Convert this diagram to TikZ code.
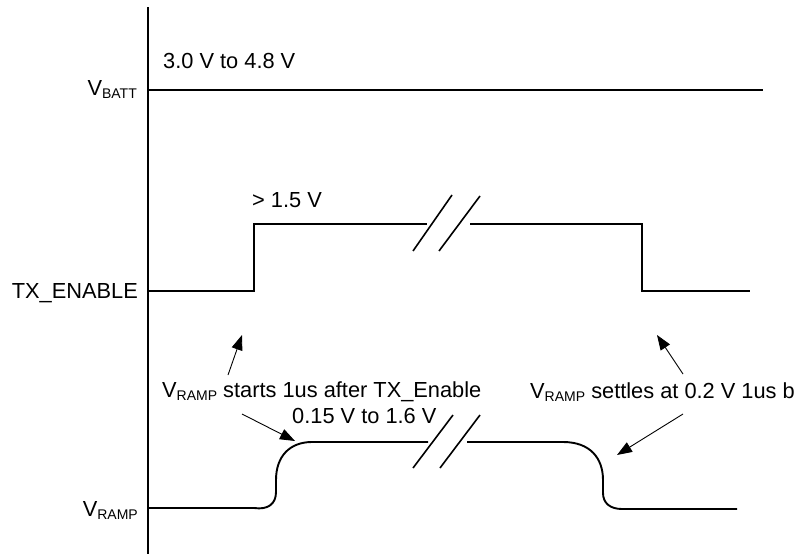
\documentclass[tikz,border=0pt]{standalone}
\usepackage{fontspec}
\setmainfont{Liberation Sans}
\usetikzlibrary{arrows.meta}
\newcommand{\sig}[2]{#1\raisebox{-3.5pt}{\fontsize{14}{14}\selectfont #2}}
\tikzset{
  lbl/.style={inner sep=0pt, font=\fontsize{21.8}{26}\selectfont},
  wave/.style={line width=1.9pt, line join=miter},
  axisline/.style={line width=1.5pt},
  brk/.style={line width=1.6pt},
  callout/.style={line width=0.9pt, -{Triangle[length=15pt,width=11pt]}},
}
\begin{document}
\begin{tikzpicture}[x=1pt,y=-1pt]
\clip (0,0) rectangle (798,554);
\fill[white] (0,0) rectangle (798,554);

% axis
\coordinate (axtop) at (148,7);
\coordinate (axbot) at (148,560);
\draw[axisline] (axtop) -- (axbot);

% labels
\node[lbl, anchor=base east] (lvbatt) at (137,95) {\sig{V}{BATT}};
\node[lbl, anchor=base east] (ltx) at (138,298) {TX\_ENABLE};
\node[lbl, anchor=base east] (lvramp) at (138,516) {\sig{V}{RAMP}};

\node[lbl, anchor=base west] (tbatt) at (163,68) {3.0 V to 4.8 V};
\node[lbl, anchor=base west] (ttx) at (252,207) {> 1.5 V};
\node[lbl, anchor=base west] (tstart) at (162,397) {\sig{V}{RAMP} starts 1us after TX\_Enable};
\node[lbl, anchor=base west] (trange) at (292,423) {0.15 V to 1.6 V};
\node[lbl, anchor=base west] (tsettle) at (530,398) {\sig{V}{RAMP} settles at 0.2 V 1us b};

% VBATT
\draw[wave] (148,90) -- (763,90);

% TX_ENABLE
\draw[wave] (148,291) -- (254,291) -- (254,224) -- (427,224);
\draw[wave] (470,224) -- (642,224) -- (642,291) -- (750,291);
\draw[brk] (413,251) -- (452,195);
\draw[brk] (439,251) -- (480,196);

% VRAMP
\draw[wave, line join=round] (148,508) -- (254,508)
  .. controls (268,510) and (276,504) .. (276,492) -- (276,480)
  .. controls (276,456) and (290,442) .. (312,442) -- (428,442);
\draw[wave, line join=round] (467,442) -- (563,442)
  .. controls (590,442) and (603,458) .. (603,480) -- (603,493)
  .. controls (603,503) and (610,509) .. (622,509) -- (737,509);
\draw[brk] (413,468) -- (453,415);
\draw[brk] (440,468) -- (480,415);

% callouts
\coordinate (a1s) at (228,375); \coordinate (a1e) at (242,335);
\coordinate (a2s) at (242,414); \coordinate (a2e) at (295,441);
\coordinate (a3s) at (683,374); \coordinate (a3e) at (657,335);
\coordinate (a4s) at (683,414); \coordinate (a4e) at (617,455);
\draw[callout] (a1s) -- (a1e);
\draw[callout] (a2s) -- (a2e);
\draw[callout] (a3s) -- (a3e);
\draw[callout] (a4s) -- (a4e);
\end{tikzpicture}
\end{document}
